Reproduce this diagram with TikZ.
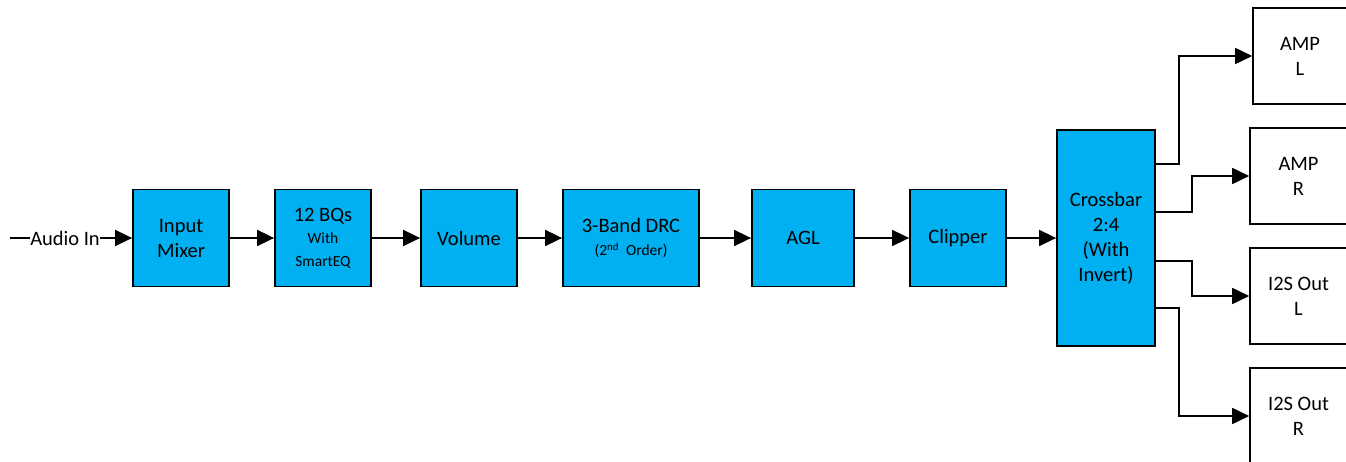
\documentclass[tikz,border=0pt]{standalone}
\usepackage{fontspec}
\setmainfont{Carlito}
\usetikzlibrary{arrows.meta}
\definecolor{blockblue}{HTML}{00B0F0}
\tikzset{
  big/.style={font=\fontsize{20.5}{25}\selectfont},
  blk/.style={draw, line width=1.8pt, fill=blockblue, align=center, inner sep=0pt, big},
  outbox/.style={draw, line width=1.6pt, fill=white, align=center, inner sep=0pt, big,
                 minimum width=96pt, minimum height=96pt},
  conn/.style={line width=1.7pt, -{Triangle[length=17pt,width=16pt]}},
  plain/.style={line width=1.7pt}
}
\newcommand{\smalltxt}{\fontsize{15.5}{23}\selectfont}
\begin{document}
\begin{tikzpicture}[x=1pt,y=-1pt]
\useasboundingbox (0,0) rectangle (1346,462);
\node[blk, minimum width=96pt, minimum height=97pt] (mix) at (181,238) {Input\\Mixer};
\node[blk, minimum width=96pt, minimum height=97pt] (bq) at (323,238) {12 BQs\\[-3pt]{\smalltxt With}\\[-2pt]{\smalltxt SmartEQ}};
\node[blk, minimum width=96pt, minimum height=97pt] (vol) at (469,238) {Volume};
\node[blk, minimum width=136pt, minimum height=97pt] (drc) at (631,238) {3-Band DRC\\[-2pt]{\smalltxt (2\textsuperscript{nd}\ \ Order)}};
\node[blk, minimum width=102pt, minimum height=97pt] (agl) at (803,238) {AGL};
\node[blk, minimum width=96pt, minimum height=97pt] (clip) at (958,238) {Clipper};
\node[blk, minimum width=98pt, minimum height=216pt] (xbar) at (1106,238) {Crossbar\\2:4\\(With\\Invert)};
\node[outbox, minimum width=94pt] (ampl) at (1300,56) {AMP\\L};
\node[outbox, minimum width=97pt] (ampr) at (1298.5,176) {AMP\\R};
\node[outbox, minimum width=97pt] (i2sl) at (1298.5,296) {I2S Out\\L};
\node[outbox, minimum width=97pt] (i2sr) at (1298.5,416) {I2S Out\\R};
\node[big, inner sep=0pt] (ain) at (65,238) {Audio In};
\coordinate (src) at (10,238);
\draw[plain] (src) -- (ain.west);
\draw[conn] (ain.east) -- (mix.west);
\draw[conn] (mix) -- (bq);
\draw[conn] (bq) -- (vol);
\draw[conn] (vol) -- (drc);
\draw[conn] (drc) -- (agl);
\draw[conn] (agl) -- (clip);
\draw[conn] (clip) -- (xbar);
\draw[conn] ([yshift=74pt]xbar.east) -- ++(23,0) |- (ampl.west);
\draw[conn] ([yshift=26pt]xbar.east) -- ++(36,0) |- (ampr.west);
\draw[conn] ([yshift=-23pt]xbar.east) -- ++(36,0) |- (i2sl.west);
\draw[conn] ([yshift=-70pt]xbar.east) -- ++(23,0) |- (i2sr.west);
\end{tikzpicture}
\end{document}
